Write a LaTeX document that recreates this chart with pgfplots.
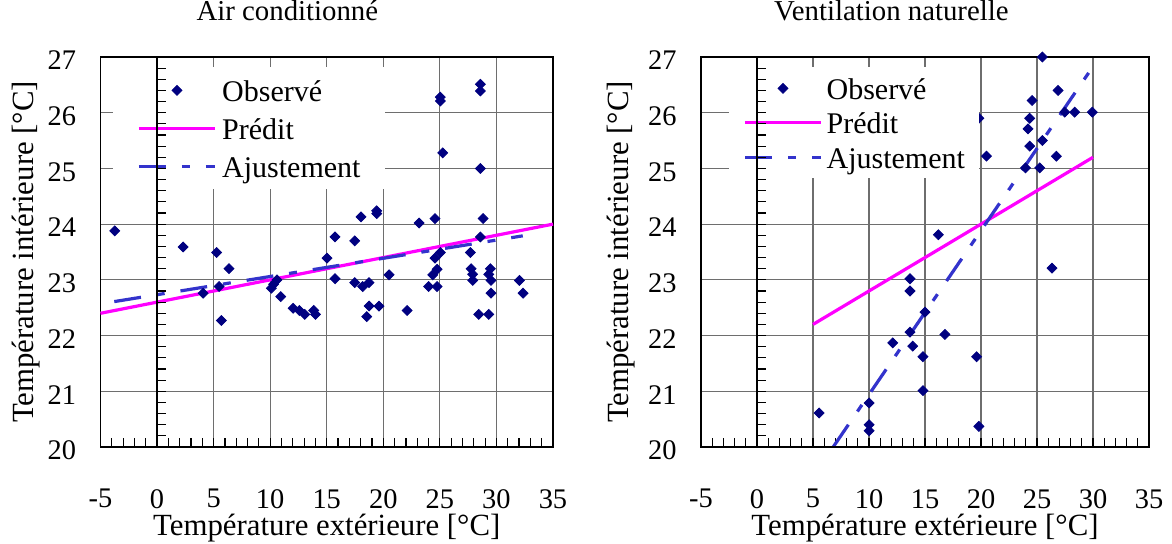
\documentclass[border=0pt]{standalone}
\usepackage{fontspec}
\setmainfont{Liberation Serif}
\usepackage{pgfplots}
\pgfplotsset{compat=1.18}
\definecolor{navy}{RGB}{0,0,128}
\definecolor{fitblue}{RGB}{51,51,204}
\definecolor{predmag}{RGB}{255,0,255}
\definecolor{gridgray}{RGB}{110,110,110}

\pgfplotsset{
  base/.style={
    scale only axis, height=195pt,
    xmin=-5, xmax=35, ymin=20, ymax=27,
    xtick={-5,0,...,35}, ytick={20,...,27},
    minor x tick num=4,
    xmajorgrids, ymajorgrids,
    major grid style={gridgray, line width=0.6pt},
    axis line style={black, line width=0.9pt},
    tick align=inside, xtick pos=bottom, ytick pos=left,
    major tick length=4.5pt, minor tick length=4.5pt,
    xtick style={black, line width=0.6pt},
    ytick style={draw=none},
    /pgf/number format/assume math mode=true,
    ticklabel style={font=\rmfamily\fontsize{14.2}{14.2}\selectfont},
    xticklabel style={inner sep=0pt, anchor=north, yshift=-21pt},
    yticklabel style={inner sep=0pt, anchor=east, xshift=-12pt, yshift=-1.7pt},
    xlabel={Température extérieure [°C]},
    ylabel={Température intérieure [°C]},
    label style={font=\rmfamily\fontsize{15.4}{15.4}\selectfont, inner sep=0pt},
    xlabel style={at={(axis description cs:0.5,0)}, anchor=base, yshift=-44.5pt},
    title style={font=\rmfamily\fontsize{14.4}{14.4}\selectfont, inner sep=0pt, anchor=base, yshift=12pt},
    legend image code/.code={\draw[#1] (0pt,0pt) -- (38pt,0pt);},
    clip=false,
  },
  scat/.style={only marks, mark=square*, mark size=1.75pt,
    mark options={rotate=45, fill=navy, draw=navy}, color=navy,
    legend image code/.code={\draw[#1,mark repeat=2,mark phase=2] plot coordinates {(0pt,0pt) (19pt,0pt) (38pt,0pt)};}},
  pred/.style={no marks, color=predmag, line width=1.6pt},
  fit/.style={no marks, color=fitblue, line width=1.6pt, dash pattern=on 13.5pt off 8pt on 4pt off 8pt},
  over/.style={
    scale only axis, height=195pt,
    xmin=-5, xmax=35, ymin=20, ymax=27,
    axis x line=bottom, axis y line=middle,
    axis line style={-, black, line width=0.9pt},
    xtick=\empty, ytick={20,...,27}, minor y tick num=4, yticklabels={},
    tick align=center, major tick length=4.5pt, minor tick length=4.5pt,
    major tick style={black, line width=0.6pt, xshift=2.25pt},
    minor tick style={black, line width=0.6pt, xshift=2.25pt},
  },
}

\begin{document}
\begin{tikzpicture}
\path[use as bounding box] (0,0) rectangle (586pt,272pt);

% ---------- Left: Air conditionne ----------
\begin{axis}[base, at={(50.25pt,48.5pt)}, anchor=south west, width=226.25pt,
  title={Air conditionné},
  title style={at={(axis description cs:0.413,1)}},
  ylabel style={at={(axis description cs:-0.165,0.5)}, anchor=center},
  legend style={at={(0.0276,0.9744)}, anchor=north west, draw=none, fill=white,
    inner xsep=12pt, inner ysep=5pt, row sep=6pt, column sep=2.8pt,
    font=\rmfamily\fontsize{15}{15}\selectfont,
    nodes={inner sep=0pt, text height=12pt, text depth=1pt},
    cells={anchor=west}},
  ]
\addplot[scat] coordinates {
(-3.74,23.88) (2.30,23.59) (5.27,23.49) (6.36,23.20) (4.07,22.76) (5.48,22.88)
(5.69,22.27) (10.1,22.85) (10.3,22.92) (10.6,23.0) (10.93,22.70) (12.02,22.49)
(12.58,22.45) (13.05,22.38) (13.85,22.45) (14.0,22.38) (15.03,23.39) (15.73,23.77)
(15.73,23.02) (17.47,23.70) (17.47,22.95) (18.03,24.13) (18.18,22.88) (18.74,22.95)
(18.53,22.34) (18.74,22.53) (19.42,24.24) (19.42,24.19) (19.62,22.53) (20.51,23.09)
(22.10,22.45) (23.16,24.02) (24.01,22.88) (24.37,23.09) (24.57,24.10) (24.57,23.39)
(24.75,23.19) (24.75,22.88) (25.04,23.49) (25.04,26.28) (25.04,26.21) (25.25,25.28)
(27.70,23.49) (27.76,23.20) (27.9,23.1) (27.9,22.99) (28.43,22.38) (28.58,26.51)
(28.58,26.39) (28.58,25.0) (28.82,24.10) (28.58,23.77) (29.32,22.38) (29.46,23.20)
(29.32,23.10) (29.52,22.99) (29.52,22.76) (32.03,22.99) (32.35,22.76)
};
\addlegendentry{Observé}
\addplot[pred] coordinates {(-5,22.4) (35,24.0)};
\addlegendentry{Prédit}
\addplot[fit] coordinates {(-3.78,22.61) (32.33,23.79)};
\addlegendentry{Ajustement}
\end{axis}
\begin{axis}[over, at={(50.25pt,48.5pt)}, anchor=south west, width=226.25pt]
\end{axis}

% ---------- Right: Ventilation naturelle ----------
\begin{axis}[base, at={(350.5pt,48.5pt)}, anchor=south west, width=224pt,
  title={Ventilation naturelle},
  title style={at={(axis description cs:0.425,1)}},
  ylabel style={at={(axis description cs:-0.179,0.5)}, anchor=center},
  legend style={at={(0.0625,0.9744)}, anchor=north west, draw=none, fill=white,
    inner xsep=7pt, inner ysep=4pt, row sep=4.25pt, column sep=2pt,
    font=\rmfamily\fontsize{15}{15}\selectfont,
    nodes={inner sep=0pt, text height=12pt, text depth=1pt},
    cells={anchor=west}},
  ]
\addplot[scat] coordinates {
(5.55,20.61) (10.01,20.79) (10.01,20.40) (10.01,20.29) (12.12,21.87) (13.66,23.02)
(13.66,22.80) (13.66,22.06) (13.90,21.81) (15.0,22.42) (14.82,21.62) (14.82,21.01)
(16.19,23.81) (16.78,22.02) (19.6,21.62) (19.81,20.37) (19.81,25.90) (20.49,25.22)
(23.97,25.01) (24.2,25.71) (24.35,25.90) (24.35,25.40) (24.56,26.22) (25.24,25.01)
(25.48,25.50) (25.48,27.0) (26.34,23.21) (26.73,25.22) (26.88,26.40) (27.47,26.01)
(28.36,26.01) (29.94,26.01)
};
\addlegendentry{Observé}
\addplot[pred] coordinates {(5,22.2) (30,25.2)};
\addlegendentry{Prédit}
\addplot[fit] coordinates {(6.8,20.0) (30,26.83)};
\addlegendentry{Ajustement}
\end{axis}
\begin{axis}[over, at={(350.5pt,48.5pt)}, anchor=south west, width=224pt]
\end{axis}
\end{tikzpicture}
\end{document}
